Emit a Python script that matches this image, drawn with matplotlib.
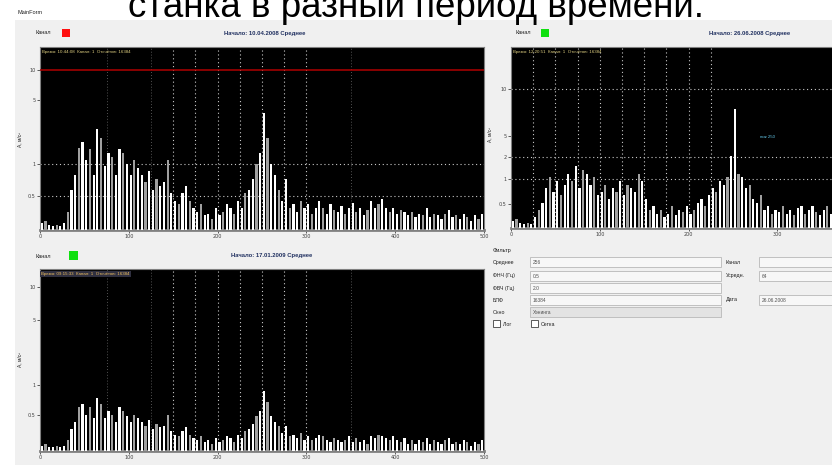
import numpy as np
import matplotlib
matplotlib.use('Agg')
from matplotlib import pyplot as plt
from matplotlib.patches import Rectangle

W, H = 832, 465

caption = 'станка в разный период времени.'
window_title = 'MainForm'

freq_max = 500          # Hz, full x range of every spectrum
n_bins = 120

# amplitudes, % of plot height, one per frequency bin
spec_top_left = [4, 5, 3, 2, 3, 2, 4, 10, 22, 30, 45, 48, 38, 44, 30, 55, 50, 35, 42, 40,
                 30, 44, 42, 36, 30, 38, 34, 30, 26, 32, 22, 28, 24, 26, 38, 20, 16, 14, 20, 24,
                 16, 12, 10, 14, 8, 9, 6, 12, 8, 10, 14, 12, 9, 16, 12, 20, 22, 28, 36, 42,
                 64, 50, 36, 30, 22, 16, 28, 12, 14, 10, 16, 12, 14, 9, 12, 16, 12, 9, 14, 11,
                 10, 13, 9, 12, 15, 10, 12, 8, 11, 16, 12, 14, 17, 12, 10, 12, 9, 11, 10, 8,
                 10, 7, 9, 8, 12, 7, 9, 8, 6, 9, 11, 7, 8, 6, 9, 7, 5, 8, 6, 9]
spec_top_right = [4, 5, 3, 2, 3, 2, 6, 10, 14, 22, 28, 20, 26, 18, 24, 30, 26, 34, 22, 32,
                  30, 24, 28, 18, 20, 24, 16, 22, 20, 26, 18, 24, 22, 20, 30, 26, 16, 10, 12, 8,
                  10, 6, 8, 12, 7, 10, 9, 12, 8, 10, 14, 16, 12, 18, 22, 20, 26, 24, 28, 40,
                  66, 30, 28, 22, 24, 16, 14, 18, 10, 12, 8, 10, 9, 12, 8, 10, 7, 11, 12, 8,
                  10, 12, 9, 7, 10, 12, 8, 10, 9]
spec_bottom_left = [3, 4, 2, 2, 3, 2, 3, 6, 12, 16, 24, 26, 20, 24, 18, 29, 26, 18, 22, 20,
                    16, 24, 22, 19, 16, 20, 18, 16, 14, 17, 12, 15, 13, 14, 20, 11, 9, 8, 11, 13,
                    9, 7, 6, 8, 5, 6, 4, 7, 5, 6, 8, 7, 5, 9, 7, 11, 12, 15, 19, 22,
                    33, 27, 19, 16, 14, 10, 14, 8, 9, 7, 10, 6, 8, 6, 7, 9, 8, 6, 5, 7,
                    6, 5, 6, 8, 5, 7, 5, 6, 4, 8, 7, 9, 8, 7, 6, 8, 6, 5, 7, 4,
                    6, 4, 6, 5, 7, 4, 6, 5, 4, 6, 7, 4, 5, 4, 6, 5, 3, 5, 4, 6]

x_tick_hz = [0, 100, 200, 300, 400, 500]
x_tick_hz_right = [0, 100, 200, 300]
grid_hz_left = [150, 175, 200, 225, 250, 275, 300]
faint_hz_left = [75, 125, 350]
grid_hz_right = [25, 50, 75, 100, 125, 150, 175, 200, 225]

y_ticks_top_left = [87.4, 71, 36, 18.6]
y_labels_top_left = ['10', '5', '1', '0.5']
y_ticks_top_right = [77, 51, 39, 27, 13]
y_labels_top_right = ['10', '5', '2', '1', '0.5']
y_ticks_bottom_left = [90, 72, 36, 20]
y_labels_bottom_left = ['10', '5', '1', '0.5']

red_limit_top_left = 87.4
hgrid_top_left = [36, 18.6]
hgrid_top_right = [77, 39, 27]

titles = ['Начало: 10.04.2008 Среднее', 'Начало: 26.06.2008 Среднее', 'Начало: 17.01.2009 Среднее']
form_left = ['Среднее', 'ФНЧ (Гц)', 'ФВЧ (Гц)', 'БПФ', 'Окно']
form_values = ['256', '0.5', '2.0', '16384', 'Хэнинга']
form_right = ['Канал', 'Усредн.', '', 'Дата']
form_right_values = ['', '64', '', '26.06.2008']

FONT = 'Liberation Sans'


def px(x0, y0, x1, y1):
    return [x0 / W, 1 - y1 / H, (x1 - x0) / W, (y1 - y0) / H]


def ftext(x, y, s, **kw):
    kw.setdefault('fontsize', 4.2)
    kw.setdefault('family', FONT)
    kw.setdefault('color', '#202020')
    fig.text(x / W, 1 - y / H, s, va=kw.pop('va', 'center'), **kw)


def frect(x0, y0, x1, y1, fc, ec='none', lw=0.6, z=1):
    fig.add_artist(Rectangle((x0 / W, 1 - y1 / H), (x1 - x0) / W, (y1 - y0) / H,
                             transform=fig.transFigure, fc=fc, ec=ec, lw=lw, zorder=z))


def spectrum(rect, values, yticks, ylabels, grid_hz, faint_hz, hgrid, xticks):
    ax = fig.add_axes(px(*rect))
    ax.set_facecolor('black')
    bw = freq_max / n_bins
    f = np.arange(len(values)) * bw + bw / 2
    colors = ['#a0a0a0' if i % 3 == 1 else 'white' for i in range(len(values))]
    ax.bar(f, values, width=bw * 0.6, color=colors, linewidth=0, zorder=3)
    for g in grid_hz:
        ax.axvline(g, color='#c8c8c8', lw=0.8, ls=(0, (1, 2.5)), zorder=2)
    for g in faint_hz:
        ax.axvline(g, color='#707070', lw=0.6, ls=(0, (1, 2.5)), zorder=2)
    for g in hgrid:
        ax.axhline(g, color='#c8c8c8', lw=0.8, ls=(0, (1, 2.5)), zorder=2)
    ax.set_xlim(0, freq_max)
    ax.set_ylim(0, 100)
    ax.set_xticks(xticks)
    ax.set_xticklabels([str(v) for v in xticks], fontsize=3.5, color='#3060a0')
    ax.set_yticks(yticks)
    ax.set_yticklabels(ylabels, fontsize=3.5, color='#3060a0')
    ax.tick_params(length=2, width=0.6, pad=1, colors='#404040')
    for s in ax.spines.values():
        s.set_color('#808080')
        s.set_linewidth(0.8)
    ax.spines['bottom'].set_linewidth(2)
    return ax


fig = plt.figure(figsize=(W / 100, H / 100), dpi=100)
fig.patch.set_facecolor('white')

# window body, kept behind the axes
frect(15, 20, 832, 465, '#f0f0f0', z=-10)
ftext(18, 13, window_title, fontsize=4)
fig.text(0.5, 1 - 17 / H, caption, ha='center', va='baseline', fontsize=26.5,
         family=FONT, color='black')

# top-left spectrum
ax1 = spectrum((40, 47, 484, 230), spec_top_left, y_ticks_top_left, y_labels_top_left,
               grid_hz_left, faint_hz_left, hgrid_top_left, x_tick_hz)
ax1.axhline(red_limit_top_left, color='#b00000', lw=1.1, zorder=4)
ax1.text(0.005, 0.985, 'Время: 10:44:08  Канал: 1  Отсчётов: 16384', transform=ax1.transAxes,
         fontsize=3.2, color='#e0d080', va='top', family=FONT)
ftext(35, 33, 'Канал', fontsize=4)
frect(62, 29, 70, 37, '#ff1010')
ftext(265, 33, titles[0], ha='center', fontsize=4.2, color='#203060', weight='bold')
ftext(20, 140, 'A, м/с²', fontsize=3.5, rotation=90, ha='center')

# top-right spectrum, runs past the window edge
ax2 = spectrum((511, 47, 955, 228), spec_top_right, y_ticks_top_right, y_labels_top_right,
               grid_hz_right, [], hgrid_top_right, x_tick_hz_right)
ax2.text(0.005, 0.985, 'Время: 12:20:51  Канал: 1  Отсчётов: 16384', transform=ax2.transAxes,
         fontsize=3.2, color='#e0d080', va='top', family=FONT)
ax2.text(0.56, 0.50, 'пик 250', transform=ax2.transAxes, fontsize=3.2, color='#60c0e0',
         family=FONT)
ftext(515, 33, 'Канал', fontsize=4)
frect(541, 29, 549, 37, '#10e010')
ftext(750, 33, titles[1], ha='center', fontsize=4.2, color='#203060', weight='bold')
ftext(490, 135, 'A, м/с²', fontsize=3.5, rotation=90, ha='center')

# bottom-left spectrum
ax3 = spectrum((40, 269, 484, 451), spec_bottom_left, y_ticks_bottom_left, y_labels_bottom_left,
               grid_hz_left, faint_hz_left, [], x_tick_hz)
ax3.text(0.003, 0.985, 'Время: 09:15:33  Канал: 1  Отсчётов: 16384', transform=ax3.transAxes,
         fontsize=3.2, color='#f0c060', va='top', family=FONT,
         bbox=dict(fc='#303040', ec='none', pad=0.6))
ftext(35, 256, 'Канал', fontsize=4)
frect(69, 251, 78, 260, '#10e010')
ftext(272, 256, titles[2], ha='center', fontsize=4.2, color='#203060', weight='bold')
ftext(20, 360, 'A, м/с²', fontsize=3.5, rotation=90, ha='center')

# filter form
ftext(493, 250, 'Фильтр', fontsize=4)
rows_y = [262, 276, 288, 300, 312]
for i, y in enumerate(rows_y):
    ftext(493, y, form_left[i], fontsize=3.8)
    fc = '#e3e3e3' if i == 4 else '#f7f7f7'
    frect(530, y - 5, 721, y + 5, fc, ec='#b8b8b8')
    ftext(533, y, form_values[i], fontsize=3.5, color='#505050')
for i, y in enumerate(rows_y[:4]):
    if form_right[i]:
        ftext(726, y, form_right[i], fontsize=3.8)
        frect(759, y - 5, 840, y + 5, '#f7f7f7', ec='#b8b8b8')
        ftext(762, y, form_right_values[i], fontsize=3.5, color='#505050')
frect(493, 320, 500, 327, 'white', ec='#404040')
ftext(503, 324, 'Лог', fontsize=3.8)
frect(531, 320, 538, 327, 'white', ec='#404040')
ftext(541, 324, 'Сетка', fontsize=3.8)

plt.savefig('out.png', dpi=100)
